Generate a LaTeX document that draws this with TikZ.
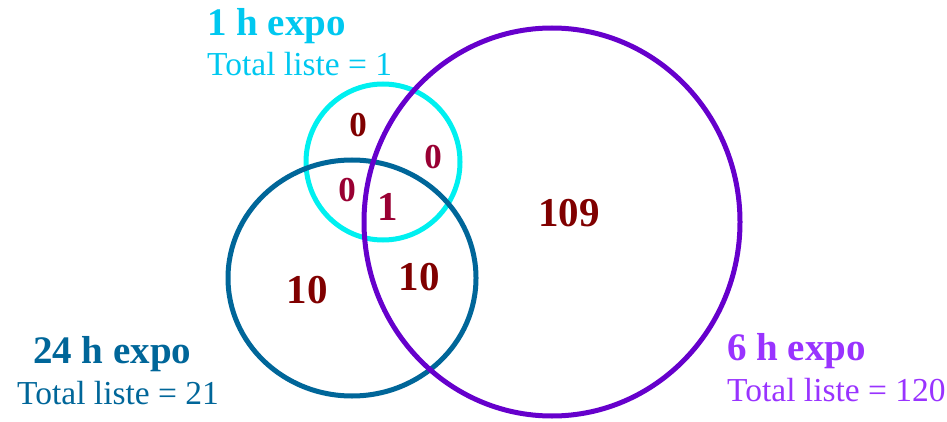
\documentclass[tikz,border=0pt]{standalone}
\usepackage{fontspec}
\setmainfont{Liberation Serif}
\definecolor{cyanc}{RGB}{0,240,240}
\definecolor{bluec}{RGB}{0,102,153}
\definecolor{purplec}{RGB}{102,0,204}
\definecolor{cyantxt}{RGB}{0,200,240}
\definecolor{purpletxt}{RGB}{153,51,255}
\definecolor{numdark}{RGB}{128,0,0}
\definecolor{numred}{RGB}{153,0,51}
\begin{document}
\begin{tikzpicture}[x=1pt,y=-1pt,
  ring/.style={line width=5pt},
  title/.style={font=\fontsize{39}{42}\selectfont\bfseries, anchor=base west, inner sep=0pt},
  total/.style={font=\fontsize{33.5}{36}\selectfont, anchor=base west, inner sep=0pt},
  bignum/.style={font=\fontsize{41}{44}\selectfont\bfseries, text=numdark, inner sep=0pt},
  smallnum/.style={font=\fontsize{35}{38}\selectfont\bfseries, inner sep=0pt}]
\useasboundingbox (0,0) rectangle (947,422);
% circles
\draw[ring, cyanc] (383,162) ellipse [x radius=77, y radius=78];
\draw[ring, bluec] (352,278) ellipse [x radius=124, y radius=118];
\draw[ring, purplec] (552,222) ellipse [x radius=188, y radius=194];
% labels
\node[title, text=cyantxt] (t1) at (207,36) {1 h expo};
\node[total, text=cyantxt] (l1) at (207,76) {Total liste = 1};
\node[title, text=bluec] (t24) at (33,363) {24 h expo};
\node[total, text=bluec] (l24) at (17,404) {Total liste = 21};
\node[title, text=purpletxt] (t6) at (727,360) {6 h expo};
\node[total, text=purpletxt] (l6) at (727,401) {Total liste = 120};
% numbers
\node[smallnum, text=numdark] (n1) at (358,125) {0};
\node[smallnum, text=numred] (n2) at (433,157) {0};
\node[smallnum, text=numred] (n3) at (347,190) {0};
\node[bignum, text=numred] (n4) at (388,207) {1};
\node[bignum] (n5) at (569,213) {109};
\node[bignum] (n6) at (307,290) {10};
\node[bignum] (n7) at (419,277) {10};
\end{tikzpicture}
\end{document}
